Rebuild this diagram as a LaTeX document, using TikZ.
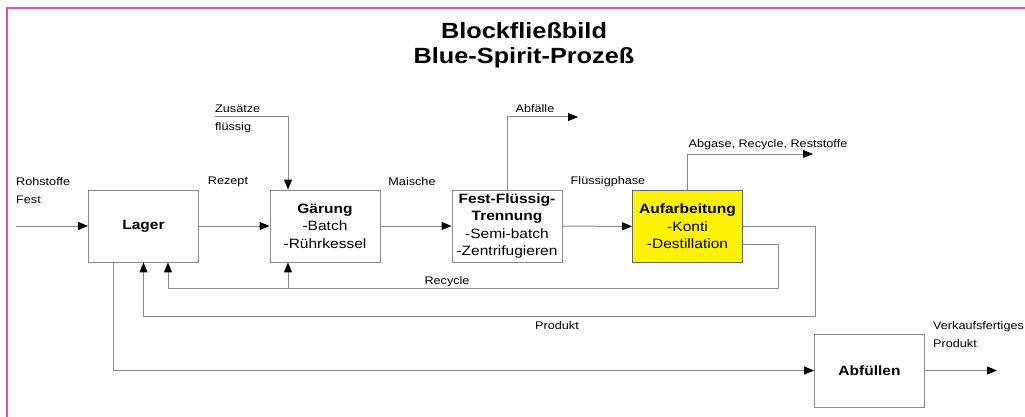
\documentclass[tikz,border=0pt]{standalone}
\usepackage{fontspec}
\setmainfont{Liberation Sans}[FakeStretch=1.15]
\usepackage{tikz}
\usetikzlibrary{arrows.meta,calc,positioning}
\definecolor{linegray}{HTML}{8A8A8A}
\definecolor{framepink}{HTML}{D64FC4}
\newcommand{\lblfont}{\fontsize{11}{18}\selectfont}
\newcommand{\boxfont}{\fontsize{13.5}{17.5}\selectfont}
\tikzset{
  block/.style={draw=linegray, line width=0.9pt, minimum width=110pt, minimum height=72pt, align=center, font=\boxfont, inner sep=1pt},
  flow/.style={draw=linegray, line width=1pt, -{Triangle[length=10pt,width=8pt,color=black]}},
  lbl/.style={font=\lblfont, inner sep=0pt, align=left}
}

\begin{document}
\begin{tikzpicture}[x=1pt,y=-1pt]
\useasboundingbox (0,0) rectangle (1025,417);
% frame
\draw[framepink, line width=2pt] (7,425) |- (1035,8);
% title
\node[font=\fontsize{22}{25}\selectfont\bfseries, align=center] (title) at (524,45) {Blockflie\ss bild\\Blue-Spirit-Proze\ss};
% blocks
\node[block] (lager) at (143.5,226) {\textbf{Lager}};
\node[block] (gaerung) at (325,226) {\textbf{Gärung}\\-Batch\\-Rührkessel};
\node[block] (trenn) at (507,226) {\textbf{Fest-Flüssig-}\\\textbf{Trennung}\\-Semi-batch\\-Zentrifugieren};
\node[block, fill=yellow, draw=black!60] (aufarb) at (687.5,226.5) {\textbf{Aufarbeitung}\\-Konti\\-Destillation};
\node[block, minimum height=73pt] (abfuell) at (869.5,370.5) {\textbf{Abfüllen}};
% free ends
\coordinate (rohin) at (16,226);
\coordinate (zus) at (215,117);
\coordinate (abf) at (578,117);
\coordinate (abg) at (813,154);
\coordinate (prod) at (815,316);
\coordinate (rcyc) at (778,288);
\coordinate (vkout) at (997,370.5);
\coordinate (gz) at ([xshift=-37pt]gaerung.south);
% main line
\draw[flow] (rohin) -- (lager);
\draw[flow] (lager) -- (gaerung);
\draw[flow] (gaerung) -- (trenn);
\draw[flow] (trenn) -- (aufarb);
\draw[flow] (zus) -| ([xshift=-37pt]gaerung.north);
\draw[flow] (trenn.north) |- (abf);
\draw[flow] (aufarb.north) |- (abg);
% loops back to Lager
\draw[flow] (aufarb.east) -| (prod) -| (lager.south);
\draw[flow] ([yshift=-18pt]aufarb.east) -| (rcyc) -| ([xshift=24.5pt]lager.south);
\draw[flow] (gz |- rcyc) -- (gz);
\draw[flow] ([xshift=-30.5pt]lager.south) |- (abfuell.west);
\draw[flow] (abfuell.east) -- (vkout);
% labels
\node[lbl, anchor=west] (lroh) at (16,191) {Rohstoffe\\Fest};
\node[lbl] (lrez) at (228,182) {Rezept};
\node[lbl] (lmai) at (412,182) {Maische};
\node[lbl] (lfl) at (608,182) {Flüssigphase};
\node[lbl, anchor=west] (lzus) at (215,118.5) {Zusätze\\flüssig};
\node[lbl] (labf) at (535,109) {Abfälle};
\node[lbl] (labg) at (768,145) {Abgase, Recycle, Reststoffe};
\node[lbl] (lrec) at (447,282) {Recycle};
\node[lbl] (lprod) at (557,326) {Produkt};
\node[lbl, anchor=west] (lvk) at (933,335) {Verkaufsfertiges\\Produkt};
\end{tikzpicture}
\end{document}
